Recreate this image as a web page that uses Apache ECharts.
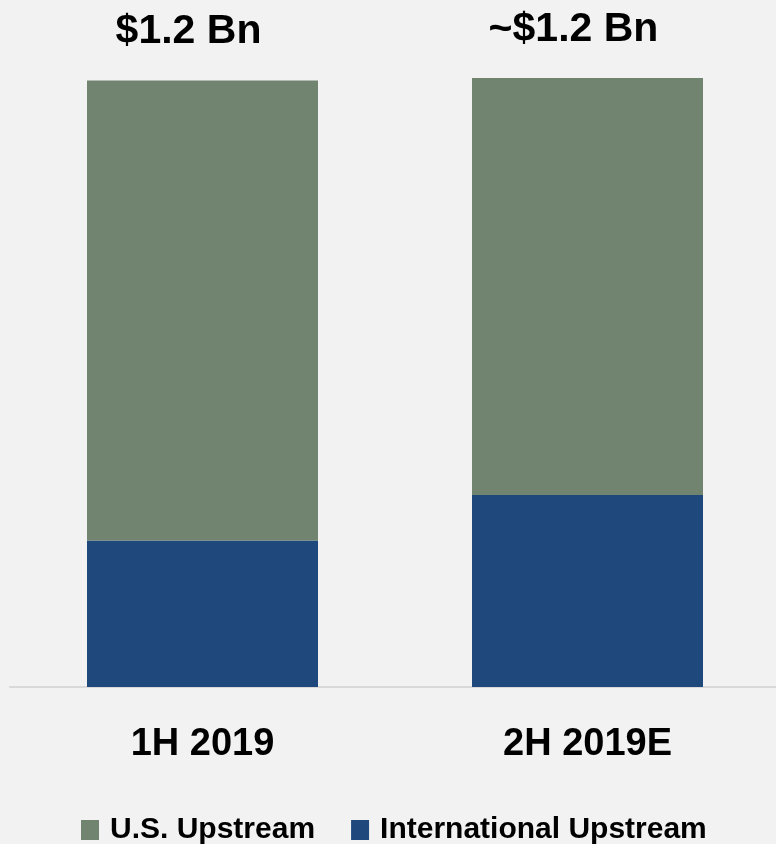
<!DOCTYPE html>
<html>
<head>
<meta charset="utf-8">
<script src="https://cdn.jsdelivr.net/npm/echarts@6/dist/echarts.min.js"></script>
<style>
html,body{margin:0;padding:0;background:#f2f2f2;}
#chart{width:776px;height:844px;}
</style>
</head>
<body>
<div id="chart"></div>
<script>
var categories = ['1H 2019', '2H 2019E'];
var internationalUpstream = [0.29, 0.38];
var usUpstream = [0.91, 0.825];
var totalLabels = ['$1.2 Bn', '~$1.2 Bn'];

var FONT = '"Liberation Sans", Arial, sans-serif';
var chart = echarts.init(document.getElementById('chart'));
chart.setOption({
  backgroundColor: '#f2f2f2',
  animation: false,
  grid: { left: 10, width: 770, top: 30, bottom: 157, outerBoundsMode: 'none', containLabel: false },
  legend: {
    data: ['U.S. Upstream', 'International Upstream'],
    left: 76,
    top: 810,
    itemWidth: 18,
    itemHeight: 20,
    itemGap: 36,
    icon: 'rect',
    textStyle: { fontFamily: FONT, fontWeight: 'bold', fontSize: 30, color: '#000', padding: [0, 0, 0, 6] }
  },
  xAxis: {
    type: 'category',
    data: categories,
    axisLine: { lineStyle: { color: '#d9d9d9', width: 2 } },
    axisTick: { show: false },
    axisLabel: { margin: 39, fontFamily: FONT, fontWeight: 'bold', fontSize: 38, color: '#000' }
  },
  yAxis: {
    type: 'value', min: 0, max: 1.3,
    show: false,
    splitLine: { show: false }
  },
  series: [
    {
      name: 'International Upstream',
      type: 'bar',
      stack: 'total',
      barWidth: '60%',
      data: internationalUpstream,
      itemStyle: { color: '#1f487c' }
    },
    {
      name: 'U.S. Upstream',
      type: 'bar',
      stack: 'total',
      barWidth: '60%',
      data: usUpstream,
      itemStyle: { color: '#718470' },
      label: {
        show: true,
        position: 'top',
        distance: 28,
        offset: [-14, 0],
        formatter: function (p) { return totalLabels[p.dataIndex]; },
        fontFamily: FONT, fontWeight: 'bold', fontSize: 41, color: '#000'
      }
    }
  ]
});
</script>
</body>
</html>
